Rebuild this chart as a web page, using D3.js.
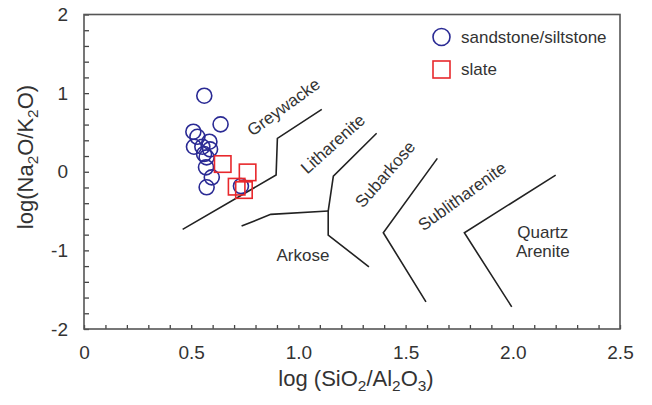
<!DOCTYPE html>
<meta charset="utf-8">
<html>
<head>
    <meta charset="utf-8">
    <title>log(SiO2/Al2O3) vs log(Na2O/K2O)</title>
    <style>
        body { margin: 0; background: #fff; }
        text { font-family: "Liberation Sans", Arial, sans-serif; fill: #333; }
    </style>
</head>
<body>
    <script src="https://d3js.org/d3.v7.min.js"></script>
    <script>
        // samples
        const sandX = [0.561, 0.637, 0.510, 0.529, 0.585, 0.513, 0.552, 0.588, 0.560, 0.572, 0.569, 0.596, 0.572, 0.732];
        const sandY = [0.967, 0.603, 0.509, 0.445, 0.382, 0.318, 0.318, 0.285, 0.225, 0.183, 0.056, -0.071, -0.198, -0.182];
        const slateX = [0.647, 0.763, 0.712, 0.746];
        const slateY = [0.098, -0.008, -0.190, -0.233];

        // field boundaries (x, y in data units)
        const lineGreywacke = [[0.46, -0.733], [0.896, -0.042], [0.902, 0.425], [1.109, 0.794]];
        const lineArkose = [[0.735, -0.691], [0.871, -0.542], [1.139, -0.500]];
        const lineSubarkose = [[1.365, 0.489], [1.163, -0.055], [1.139, -0.500], [1.139, -0.806], [1.329, -1.209]];
        const lineSublith = [[1.648, 0.170], [1.396, -0.776], [1.595, -1.654]];
        const lineQuartz = [[2.200, -0.042], [1.774, -0.776], [1.995, -1.718]];

        // field names: text, x, y, rotation
        const fieldNames = ["Greywacke", "Litharenite", "Subarkose", "Sublitharenite", "Arkose"];
        const fieldX = [0.930, 1.160, 1.404, 1.763, 1.021];
        const fieldY = [0.825, 0.355, -0.030, -0.310, -1.060];
        const fieldRot = [-36, -42, -49, -36, 0];

        const xTicks = d3.range(0, 26).map(i => i / 10);
        const yTicks = d3.range(-10, 11).map(i => i / 5);

        const width = 652, height = 405;
        const svg = d3.select("body").append("svg")
            .attr("width", width)
            .attr("height", height);

        const scaleX = d3.scaleLinear().domain([0, 2.5]).range([84, 620]);
        const scaleY = d3.scaleLinear().domain([-2, 2]).range([329, 14.5]);

        // axes
        const axisX = svg.append("g")
            .attr("transform", `translate(0, ${scaleY(-2)})`)
            .call(d3.axisBottom(scaleX)
                .tickValues(xTicks)
                .tickSizeInner(-4)
                .tickSizeOuter(0)
                .tickPadding(17)
                .tickFormat(d => Math.abs(d * 2 - Math.round(d * 2)) < 1e-6 ? (d === 0 ? "0" : d3.format(".1f")(d)) : ""));
        const axisY = svg.append("g")
            .attr("transform", `translate(${scaleX(0)}, 0)`)
            .call(d3.axisLeft(scaleY)
                .tickValues(yTicks)
                .tickSizeInner(-5)
                .tickSizeOuter(0)
                .tickPadding(16)
                .tickFormat(d => Math.abs(d - Math.round(d)) < 1e-6 ? String(Math.round(d)) : ""));
        [axisX, axisY].forEach(g => {
            g.select(".domain").remove();
            g.selectAll(".tick line").attr("stroke", "#444").attr("stroke-width", 1.3);
            g.selectAll(".tick text")
                .attr("font-size", 19)
                .attr("font-family", "Liberation Sans, Arial, sans-serif")
                .attr("fill", "#333");
        });

        // frame
        svg.append("rect")
            .attr("x", scaleX(0))
            .attr("y", scaleY(2))
            .attr("width", scaleX(2.5) - scaleX(0))
            .attr("height", scaleY(-2) - scaleY(2))
            .attr("fill", "none")
            .attr("stroke", "#555")
            .attr("stroke-width", 1.6);

        // boundaries
        const line = d3.line().x(d => scaleX(d[0])).y(d => scaleY(d[1]));
        svg.append("g").selectAll("path")
            .data([lineGreywacke, lineArkose, lineSubarkose, lineSublith, lineQuartz])
            .join("path")
            .attr("d", line)
            .attr("fill", "none")
            .attr("stroke", "#222")
            .attr("stroke-width", 1.6);

        // field labels
        svg.append("g").selectAll("text")
            .data(fieldNames)
            .join("text")
            .attr("transform", (d, i) => `translate(${scaleX(fieldX[i])}, ${scaleY(fieldY[i])}) rotate(${fieldRot[i]})`)
            .attr("text-anchor", "middle")
            .attr("dy", "0.35em")
            .attr("font-size", 17)
            .text(d => d);
        const quartz = svg.append("text")
            .attr("x", scaleX(2.14))
            .attr("y", scaleY(-0.84))
            .attr("text-anchor", "middle")
            .attr("font-size", 17);
        quartz.append("tspan").attr("x", scaleX(2.14)).text("Quartz");
        quartz.append("tspan").attr("x", scaleX(2.14)).attr("dy", 19).text("Arenite");

        // marks
        const blue = "#2a2a94", red = "#e8282c";
        svg.append("g").selectAll("circle")
            .data(sandX.map((x, i) => [x, sandY[i]]))
            .join("circle")
            .attr("cx", d => scaleX(d[0]))
            .attr("cy", d => scaleY(d[1]))
            .attr("r", 7.5)
            .attr("fill", "none")
            .attr("stroke", blue)
            .attr("stroke-width", 1.6);
        const side = 16.5;
        svg.append("g").selectAll("rect")
            .data(slateX.map((x, i) => [x, slateY[i]]))
            .join("rect")
            .attr("x", d => scaleX(d[0]) - side / 2)
            .attr("y", d => scaleY(d[1]) - side / 2)
            .attr("width", side)
            .attr("height", side)
            .attr("fill", "none")
            .attr("stroke", red)
            .attr("stroke-width", 1.6);

        // legend
        const legend = svg.append("g");
        legend.append("circle")
            .attr("cx", 441.5).attr("cy", 37).attr("r", 8.5)
            .attr("fill", "none").attr("stroke", blue).attr("stroke-width", 1.6);
        legend.append("text")
            .attr("x", 461).attr("y", 37).attr("dy", "0.35em")
            .attr("font-size", 17).text("sandstone/siltstone");
        legend.append("rect")
            .attr("x", 441.5 - 8.5).attr("y", 69.5 - 8.5).attr("width", 17).attr("height", 17)
            .attr("fill", "none").attr("stroke", red).attr("stroke-width", 1.6);
        legend.append("text")
            .attr("x", 461).attr("y", 69.5).attr("dy", "0.35em")
            .attr("font-size", 17).text("slate");

        // axis titles with subscripts
        function subTitle(sel, parts) {
            let down = false;
            parts.forEach(p => {
                const t = sel.append("tspan").text(p.t);
                if (p.sub) {
                    t.attr("font-size", "70%").attr("dy", 5);
                    down = true;
                } else if (down) {
                    t.attr("dy", -5);
                    down = false;
                }
            });
        }
        const titleX = svg.append("text")
            .attr("x", (scaleX(0) + scaleX(2.5)) / 2 + 4)
            .attr("y", 386)
            .attr("text-anchor", "middle")
            .attr("font-size", 22);
        subTitle(titleX, [{t: "log (SiO"}, {t: "2", sub: true}, {t: "/Al"}, {t: "2", sub: true}, {t: "O"}, {t: "3", sub: true}, {t: ")"}]);
        const titleY = svg.append("text")
            .attr("transform", "translate(33, 157) rotate(-90)")
            .attr("text-anchor", "middle")
            .attr("font-size", 22);
        subTitle(titleY, [{t: "log(Na"}, {t: "2", sub: true}, {t: "O/K"}, {t: "2", sub: true}, {t: "O)"}]);
    </script>
</body>
</html>
